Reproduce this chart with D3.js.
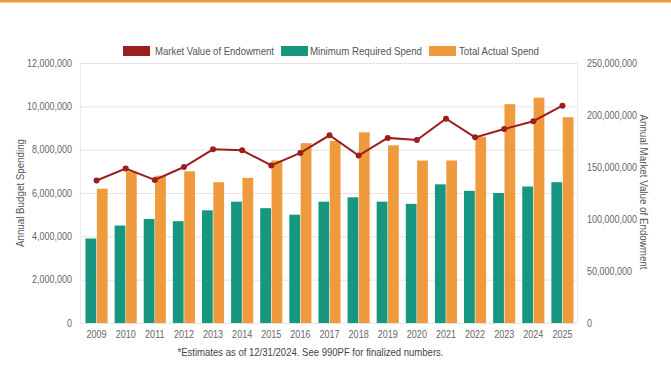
<!DOCTYPE html>
<html><head><meta charset="utf-8">
<script src="https://cdn.jsdelivr.net/npm/d3@7"></script>
<style>
html,body{margin:0;padding:0;background:#fff;}
svg{display:block;font-family:"Liberation Sans",Arial,sans-serif;}
</style></head>
<body>
<svg id="c" width="671" height="385"></svg>
<script>
const years = ["2009","2010","2011","2012","2013","2014","2015","2016","2017","2018","2019","2020","2021","2022","2023","2024","2025"];
const minRequired = [3900000,4500000,4800000,4700000,5200000,5600000,5300000,5000000,5600000,5800000,5600000,5500000,6400000,6100000,6000000,6300000,6500000];
const totalActual = [6200000,7000000,6800000,7000000,6500000,6700000,7500000,8300000,8400000,8800000,8200000,7500000,7500000,8600000,10100000,10400000,9500000];
const marketValue = [137000000,148500000,137500000,150000000,167000000,166000000,151500000,163500000,180500000,161000000,178000000,176000000,196500000,178500000,186500000,194000000,209000000];
const leftTicks = [0,2000000,4000000,6000000,8000000,10000000,12000000];
const rightTicks = [0,50000000,100000000,150000000,200000000,250000000];
const legendItems = ["Market Value of Endowment","Minimum Required Spend","Total Actual Spend"];
const colors = {red:"#9c1f1f", teal:"#17977f", orange:"#ef9b3d"};

const svg = d3.select("#c");
const L = 82, R = 577, T = 63, B = 323;
const FONT = "Liberation Sans, Arial, sans-serif";

function squeeze(sel, k){
  sel.each(function(){
    const w = this.getComputedTextLength();
    d3.select(this).attr("textLength", w*k).attr("lengthAdjust","spacingAndGlyphs");
  });
}

// top stripe
svg.append("rect").attr("x",0).attr("y",0).attr("width",671).attr("height",2.5).attr("fill","#ee9a3e");

const x = d3.scaleBand().domain(years).range([L,R]).paddingInner(0.24).paddingOuter(0.12);
const xc = d3.scaleBand().domain(years).range([L,R]);
const yL = d3.scaleLinear().domain([0,12000000]).range([B,T]);
const yR = d3.scaleLinear().domain([0,250000000]).range([B,T]);
const fmt = d3.format(",");

// gridlines
svg.append("g").selectAll("line").data(leftTicks).join("line")
  .attr("x1",L-2).attr("x2",R).attr("y1",d=>yL(d)+0.5).attr("y2",d=>yL(d)+0.5)
  .attr("stroke","#e4e4e4").attr("stroke-width",1);
svg.append("line").attr("x1",L-1.5).attr("x2",L-1.5).attr("y1",T).attr("y2",B).attr("stroke","#ececec");
svg.append("line").attr("x1",R+0.5).attr("x2",R+0.5).attr("y1",T).attr("y2",B).attr("stroke","#ececec");

// left axis
const axL = svg.append("g").attr("transform",`translate(${L-7},0)`)
  .call(d3.axisLeft(yL).tickValues(leftTicks).tickFormat(fmt).tickSize(0));
axL.select(".domain").remove();
axL.selectAll("text").attr("fill","#666").attr("font-size","10px").attr("font-family",FONT).attr("dx",0);
squeeze(axL.selectAll("text"),0.9);

// right axis
const axR = svg.append("g").attr("transform",`translate(${R+7},0)`)
  .call(d3.axisRight(yR).tickValues(rightTicks).tickFormat(fmt).tickSize(0));
axR.select(".domain").remove();
axR.selectAll("text").attr("fill","#666").attr("font-size","10px").attr("font-family",FONT);
squeeze(axR.selectAll("text"),0.9);

// x axis
const axX = svg.append("g").attr("transform",`translate(0,${B+5})`)
  .call(d3.axisBottom(xc).tickSize(0));
axX.select(".domain").remove();
axX.selectAll("text").attr("fill","#666").attr("font-size","10.5px").attr("font-family",FONT);
squeeze(axX.selectAll("text"),0.86);

// bars
const sub = d3.scaleBand().domain(["min","tot"]).range([0,x.bandwidth()]).paddingInner(0.05);
const g = svg.append("g");
g.selectAll(".bm").data(years).join("rect").attr("class","bm")
  .attr("x",d=>x(d)+sub("min")).attr("width",sub.bandwidth())
  .attr("y",(d,i)=>yL(minRequired[i])).attr("height",(d,i)=>B-yL(minRequired[i]))
  .attr("fill",colors.teal);
g.selectAll(".bt").data(years).join("rect").attr("class","bt")
  .attr("x",d=>x(d)+sub("tot")).attr("width",sub.bandwidth())
  .attr("y",(d,i)=>yL(totalActual[i])).attr("height",(d,i)=>B-yL(totalActual[i]))
  .attr("fill",colors.orange);

// line
const line = d3.line().x((d,i)=>xc(years[i])+xc.bandwidth()/2).y(d=>yR(d));
svg.append("path").datum(marketValue).attr("d",line).attr("fill","none")
  .attr("stroke",colors.red).attr("stroke-width",2);
svg.append("g").selectAll("circle").data(marketValue).join("circle")
  .attr("cx",(d,i)=>xc(years[i])+xc.bandwidth()/2).attr("cy",d=>yR(d)).attr("r",3)
  .attr("fill",colors.red);

// axis titles
svg.append("text").attr("transform",`translate(24,193) rotate(-90)`)
  .attr("text-anchor","middle").attr("font-size","11px").attr("fill","#555")
  .attr("textLength",108).attr("lengthAdjust","spacingAndGlyphs").text("Annual Budget Spending");
svg.append("text").attr("transform",`translate(640,192) rotate(90)`)
  .attr("text-anchor","middle").attr("font-size","11px").attr("fill","#555")
  .attr("textLength",155).attr("lengthAdjust","spacingAndGlyphs").text("Annual Market Value of Endowment");

// legend
const legX = [123,281,429];
const legTX = [155,310,459];
const legW = [119,112,80];
const legC = [colors.red,colors.teal,colors.orange];
const lg = svg.append("g");
legendItems.forEach((t,i)=>{
  lg.append("rect").attr("x",legX[i]).attr("y",46).attr("width",27).attr("height",10).attr("fill",legC[i]);
  lg.append("text").attr("x",legTX[i]).attr("y",55).attr("font-size","10.5px").attr("fill","#555")
    .attr("textLength",legW[i]).attr("lengthAdjust","spacingAndGlyphs").text(t);
});

// footnote
svg.append("text").attr("x",177.5).attr("y",356)
  .attr("font-size","11px").attr("fill","#444")
  .attr("textLength",266).attr("lengthAdjust","spacingAndGlyphs")
  .text("*Estimates as of 12/31/2024. See 990PF for finalized numbers.");
</script>
</body></html>
